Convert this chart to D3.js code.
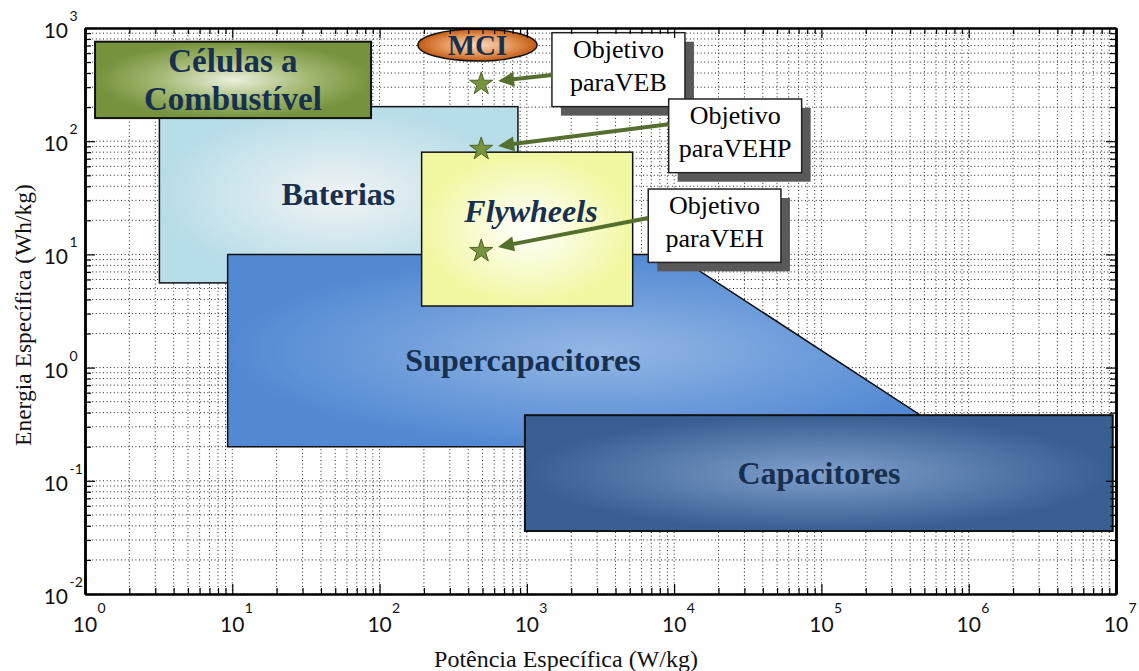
<!DOCTYPE html>
<html>
<head>
<meta charset="utf-8">
<script src="https://cdn.jsdelivr.net/npm/d3@7"></script>
<style>
  html, body { margin: 0; padding: 0; background: #fff; }
  svg { display: block; }
</style>
</head>
<body>
<svg id="chart" width="1139" height="671"></svg>
<script>
// ---------- DATA ----------
const powerDomain = [1, 1e7];
const energyDomain = [1e-2, 1e3];
const xTickExps = [0, 1, 2, 3, 4, 5, 6, 7];
const yTickExps = [-2, -1, 0, 1, 2, 3];
const xTitle = "Potência Específica (W/kg)";
const yTitle = "Energia Específica (Wh/kg)";

// rectangular regions (drawing order)
const rectNames = ["Baterias", "Células a Combustível", "Flywheels", "Capacitores"];
const rectKeys = ["bat", "cel", "fly", "cap"];
const rectPowerMin = [3.2, 1.17, 193, 970];
const rectPowerMax = [870, 87.5, 5230, 9.5e6];
const rectEnergyMin = [5.6, 160, 3.5, 0.036];
const rectEnergyMax = [202, 757, 80, 0.38];
const rectLabelLines = [["Baterias"], ["Células a", "Combustível"], ["Flywheels"], ["Capacitores"]];
const rectLabelPower = [52.5, 10.1, 1066, 96200];
const rectLabelEnergy = [33.9, 349, 24.2, 0.117];

// supercapacitor polygon
const superName = "Supercapacitores";
const superPower = [9.3, 1e4, 1e6, 9.3];
const superEnergy = [10, 10, 0.2, 0.2];
const superLabelPower = 941;
const superLabelEnergy = 1.17;

// MCI ellipse
const mciName = "MCI";
const mciPower = [182, 1172];
const mciEnergy = [511, 980];

// targets
const targetPower = [490, 490, 490];
const targetEnergy = [327, 87, 10.9];
const calloutLines = [["Objetivo", "paraVEB"], ["Objetivo", "paraVEHP"], ["Objetivo", "paraVEH"]];
const calloutPowerMin = [1480, 9180, 6670];
const calloutPowerMax = [11840, 73400, 53100];
const calloutEnergyMin = [202, 52.7, 8.5];
const calloutEnergyMax = [909, 236, 37.8];
const arrowStartEnergy = [385, 141, 21];

// ---------- SCALES ----------
const svg = d3.select("#chart");
const x = d3.scaleLog().domain(powerDomain).range([85, 1116]);
const y = d3.scaleLog().domain(energyDomain).range([594, 28]);

const xMajor = xTickExps.map(e => Math.pow(10, e));
const yMajor = yTickExps.map(e => Math.pow(10, e));
const xMinor = [], yMinor = [];
for (let e = 0; e < 7; e++) for (let k = 2; k <= 9; k++) xMinor.push(k * Math.pow(10, e));
for (let e = -2; e < 3; e++) for (let k = 2; k <= 9; k++) yMinor.push(k * Math.pow(10, e));

const navy = "#17304F";
const serif = "'Liberation Serif','Times New Roman',serif";

// ---------- DEFS ----------
const defs = svg.append("defs");
function radial(id, stops) {
  const g = defs.append("radialGradient").attr("id", id)
    .attr("cx", "50%").attr("cy", "50%").attr("r", "50%");
  stops.forEach(s => g.append("stop").attr("offset", s[0]).attr("stop-color", s[1]));
}
radial("g-cel", [[0, "#EBF0DE"], [0.55, "#A2B872"], [1, "#76923C"]]);
radial("g-bat", [[0, "#F1F3F4"], [1, "#B7DDE8"]]);
radial("g-fly", [[0, "#FFFFFF"], [1, "#F2F7A1"]]);
radial("g-cap", [[0, "#809FCC"], [1, "#375F91"]]);
radial("g-sup", [[0, "#93B7E5"], [1, "#5389D3"]]);
radial("g-mci", [[0, "#FADBC0"], [0.6, "#E39458"], [1, "#C15A14"]]);

// ---------- GRID ----------
const grid = svg.append("g").attr("stroke", "#222").attr("stroke-width", 1)
  .attr("stroke-dasharray", "1,2.6");
grid.selectAll("line.gx").data(xMajor.concat(xMinor)).join("line").attr("class", "gx")
  .attr("x1", d => x(d)).attr("x2", d => x(d)).attr("y1", y(energyDomain[1])).attr("y2", y(energyDomain[0]));
grid.selectAll("line.gy").data(yMajor.concat(yMinor)).join("line").attr("class", "gy")
  .attr("y1", d => y(d)).attr("y2", d => y(d)).attr("x1", x(powerDomain[0])).attr("x2", x(powerDomain[1]));

// ---------- REGIONS ----------
const strokeW = { bat: 1.5, cel: 2, fly: 1.5, cap: 2 };
function drawRect(i) {
  svg.append("rect")
    .attr("x", x(rectPowerMin[i])).attr("y", y(rectEnergyMax[i]))
    .attr("width", x(rectPowerMax[i]) - x(rectPowerMin[i]))
    .attr("height", y(rectEnergyMin[i]) - y(rectEnergyMax[i]))
    .attr("fill", "url(#g-" + rectKeys[i] + ")")
    .attr("stroke", "#111").attr("stroke-width", strokeW[rectKeys[i]]);
}
drawRect(0); // Baterias
drawRect(1); // Células
// Supercapacitores polygon
svg.append("path")
  .attr("d", d3.line()(superPower.map((p, i) => [x(p), y(superEnergy[i])])) + "Z")
  .attr("fill", "url(#g-sup)").attr("stroke", "#111").attr("stroke-width", 1.5);
drawRect(2); // Flywheels
drawRect(3); // Capacitores

// Region labels
function label(lines, px, py, opts) {
  const fs = opts.size, lh = opts.lh || fs * 1.15;
  const t = svg.append("text")
    .attr("text-anchor", "middle").attr("fill", navy)
    .attr("font-family", serif).attr("font-weight", "bold")
    .attr("font-style", opts.italic ? "italic" : "normal")
    .attr("font-size", fs);
  const n = lines.length;
  lines.forEach((l, k) => {
    t.append("tspan").attr("x", px)
      .attr("y", py + (k - (n - 1) / 2) * lh + fs * 0.34).text(l);
  });
}
rectLabelLines.forEach((lines, i) => {
  label(lines, x(rectLabelPower[i]), y(rectLabelEnergy[i]),
    { size: i === 1 ? 33 : 32, italic: rectKeys[i] === "fly", lh: 38 });
});
label([superName], x(superLabelPower), y(superLabelEnergy), { size: 32 });

// MCI ellipse
const mcx = (x(mciPower[0]) + x(mciPower[1])) / 2, mcy = (y(mciEnergy[0]) + y(mciEnergy[1])) / 2;
svg.append("ellipse").attr("cx", mcx).attr("cy", mcy)
  .attr("rx", (x(mciPower[1]) - x(mciPower[0])) / 2)
  .attr("ry", (y(mciEnergy[0]) - y(mciEnergy[1])) / 2)
  .attr("fill", "url(#g-mci)").attr("stroke", "#111").attr("stroke-width", 1.5);
label([mciName], mcx, mcy, { size: 29 });

// ---------- CALLOUTS ----------
const arrowColor = "#55702E";
calloutLines.forEach((lines, i) => {
  const bx0 = x(calloutPowerMin[i]), bx1 = x(calloutPowerMax[i]);
  const by0 = y(calloutEnergyMax[i]), by1 = y(calloutEnergyMin[i]);
  svg.append("rect").attr("x", bx0 + 9).attr("y", by0 + 9)
    .attr("width", bx1 - bx0).attr("height", by1 - by0).attr("fill", "#595959");
  svg.append("rect").attr("x", bx0).attr("y", by0)
    .attr("width", bx1 - bx0).attr("height", by1 - by0)
    .attr("fill", "#fff").attr("stroke", "#222").attr("stroke-width", 1.5);
  const cxm = (bx0 + bx1) / 2, cym = (by0 + by1) / 2;
  const t = svg.append("text").attr("text-anchor", "middle").attr("fill", "#000")
    .attr("font-family", serif).attr("font-size", 26);
  t.append("tspan").attr("x", cxm).attr("y", cym - 11.5).text(lines[0]);
  t.append("tspan").attr("x", cxm).attr("y", cym + 21.5).text(lines[1]);
});

// arrows
calloutLines.forEach((lines, i) => {
  const sx = x(calloutPowerMin[i]), sy = y(arrowStartEnergy[i]);
  const px = x(targetPower[i]), py = y(targetEnergy[i]);
  const dx = sx - px, dy = sy - py, L = Math.hypot(dx, dy);
  const ux = dx / L, uy = dy / L;
  const tipX = px + ux * 17, tipY = py + uy * 17;
  const headL = 16, headW = 7.5;
  const bxp = tipX + ux * headL, byp = tipY + uy * headL;
  svg.append("line").attr("x1", sx).attr("y1", sy).attr("x2", bxp - ux * 1).attr("y2", byp - uy * 1)
    .attr("stroke", arrowColor).attr("stroke-width", 4);
  svg.append("path")
    .attr("d", `M${tipX},${tipY}L${bxp - uy * headW},${byp + ux * headW}L${bxp + uy * headW},${byp - ux * headW}Z`)
    .attr("fill", arrowColor);
});

// stars
svg.selectAll("path.star").data(targetPower).join("path").attr("class", "star")
  .attr("transform", (d, i) => `translate(${x(d)},${y(targetEnergy[i]) + 1})`)
  .attr("d", d3.symbol().type(d3.symbolStar).size(165))
  .attr("fill", "#77933C").attr("stroke", "#4F6228").attr("stroke-width", 1);

// ---------- AXES ----------
function styleAxis(g, w) {
  g.select(".domain").attr("stroke", "#000").attr("stroke-width", w);
  g.selectAll(".tick line").attr("stroke", "#000").attr("stroke-width", 1.2);
}
const yb = y(energyDomain[0]), yt = y(energyDomain[1]);
const xl = x(powerDomain[0]), xr = x(powerDomain[1]);
const axisMakers = [
  () => d3.axisBottom(x), () => d3.axisTop(x), () => d3.axisLeft(y), () => d3.axisRight(y)
];
const axisTransforms = [`translate(0,${yb})`, `translate(0,${yt})`, `translate(${xl},0)`, `translate(${xr},0)`];
axisMakers.forEach((mk, idx) => {
  const maj = idx < 2 ? xMajor : yMajor, min = idx < 2 ? xMinor : yMinor;
  const g1 = svg.append("g").attr("transform", axisTransforms[idx])
    .call(mk().tickValues(min).tickSize(-6).tickSizeOuter(0).tickFormat(""));
  styleAxis(g1, idx < 2 ? 2 : 2.5);
  const g2 = svg.append("g").attr("transform", axisTransforms[idx])
    .call(mk().tickValues(maj).tickSize(-10).tickSizeOuter(0).tickFormat(""));
  styleAxis(g2, idx < 2 ? 2 : 2.5);
});

// tick labels
const sans = "Lato, 'Open Sans', sans-serif";
svg.append("g").selectAll("g").data(xTickExps).join("g").each(function (e) {
  const g = d3.select(this), px = x(Math.pow(10, e));
  g.append("text").attr("x", px).attr("y", yb + 38).attr("text-anchor", "middle")
    .attr("font-family", sans).attr("font-size", 21).attr("fill", "#111").text("10");
  g.append("text").attr("x", px + 12.5).attr("y", yb + 19)
    .attr("font-family", sans).attr("font-size", 14).attr("fill", "#111").text(e);
});
svg.append("g").selectAll("g").data(yTickExps).join("g").each(function (e) {
  const g = d3.select(this), py = y(Math.pow(10, e));
  g.append("text").attr("x", 68).attr("y", py + 10).attr("text-anchor", "end")
    .attr("font-family", sans).attr("font-size", 21).attr("fill", "#111").text("10");
  g.append("text").attr("x", 69.5).attr("y", py - 7).attr("text-anchor", "start")
    .attr("font-family", sans).attr("font-size", 14).attr("fill", "#111").text(String(e));
});

// titles
svg.append("text").attr("x", 566).attr("y", 667).attr("text-anchor", "middle")
  .attr("font-family", serif).attr("font-size", 24).attr("fill", "#111").text(xTitle);
svg.append("text").attr("transform", "translate(31,315) rotate(-90)").attr("text-anchor", "middle")
  .attr("font-family", serif).attr("font-size", 23.5).attr("fill", "#111").text(yTitle);
</script>
</body>
</html>
